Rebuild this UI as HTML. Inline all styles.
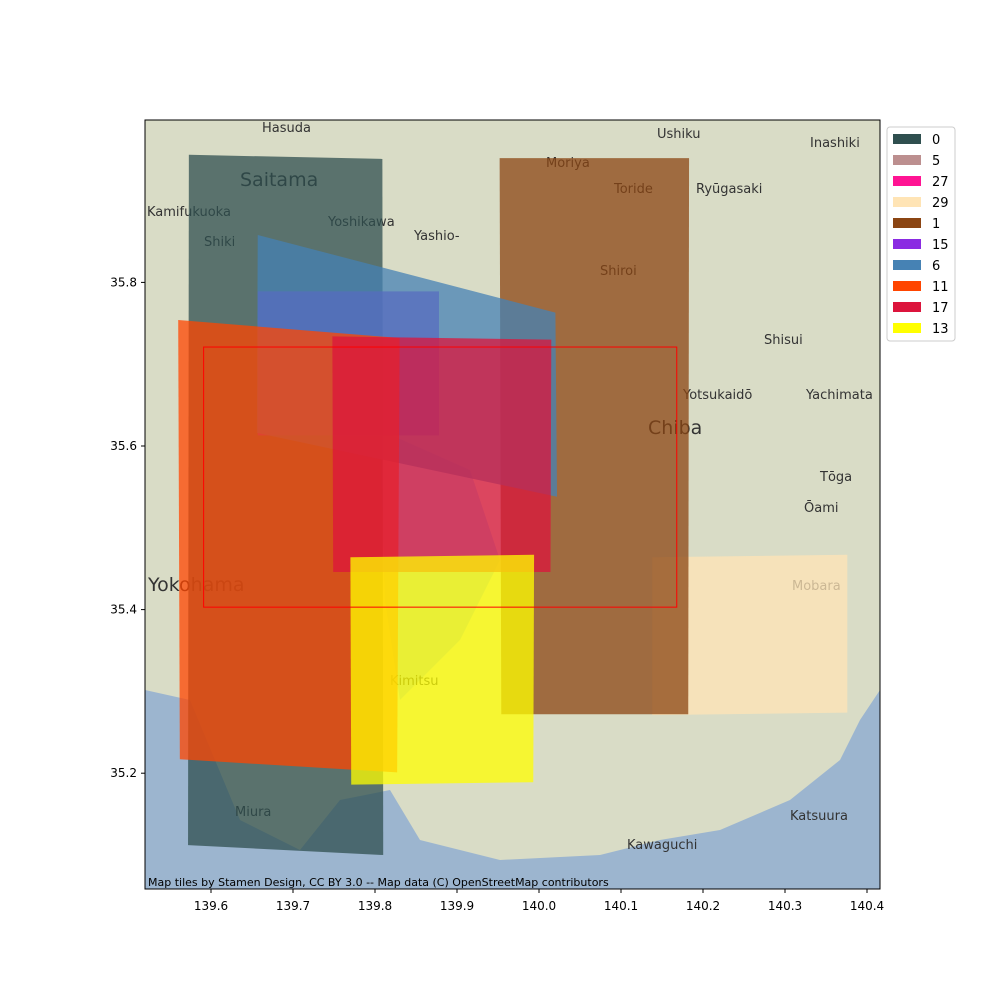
<!DOCTYPE html>
<html><head><meta charset="utf-8">
<style>
body{margin:0;background:#fff;font-family:"DejaVu Sans","Liberation Sans",sans-serif;}
svg text{font-family:"DejaVu Sans","Liberation Sans",sans-serif;}
</style></head>
<body>
<svg id="chart" width="1000" height="1000" viewBox="0 0 1000 1000" xmlns="http://www.w3.org/2000/svg">
<defs><clipPath id="clip"><rect x="145" y="120" width="735" height="769"/></clipPath></defs>
<g id="plot" clip-path="url(#clip)">
<rect x="145" y="120" width="735" height="769" fill="#d9dcc6"/>
<path d="M145,690 L190,700 L215,760 L240,820 L300,850 L340,800 L390,790 L420,840 L500,860 L600,855 L660,840 L720,830 L790,800 L840,760 L860,720 L880,690 L880,889 L145,889 Z" fill="#9cb5cf"/>
<path d="M380,430 L470,470 L500,560 L460,640 L400,700 L385,600 Z" fill="#a9bfd3"/>
<g font-size="13" fill="#333">
<text x="262" y="132">Hasuda</text><text x="657" y="138">Ushiku</text><text x="810" y="147">Inashiki</text>
<text x="240" y="186" font-size="19">Saitama</text><text x="546" y="167">Moriya</text><text x="614" y="193">Toride</text>
<text x="696" y="193">Ryūgasaki</text><text x="147" y="216">Kamifukuoka</text><text x="328" y="226">Yoshikawa</text>
<text x="414" y="240">Yashio-</text><text x="204" y="246">Shiki</text><text x="600" y="275">Shiroi</text>
<text x="764" y="344">Shisui</text><text x="683" y="399">Yotsukaidō</text><text x="806" y="399">Yachimata</text>
<text x="648" y="434" font-size="19">Chiba</text><text x="820" y="481">Tōga</text><text x="804" y="512">Ōami</text>
<text x="792" y="590">Mobara</text><text x="148" y="591" font-size="19">Yokohama</text><text x="390" y="685">Kimitsu</text>
<text x="235" y="816">Miura</text><text x="627" y="849">Kawaguchi</text><text x="790" y="820">Katsuura</text>
</g>
<g id="shapes"></g>
</g>
<rect x="145" y="120" width="735" height="769" fill="none" stroke="#000" stroke-width="1"/>
<g id="axes"></g>
<text x="148" y="886" font-size="11" fill="#000">Map tiles by Stamen Design, CC BY 3.0 -- Map data (C) OpenStreetMap contributors</text>
<g id="legend"></g>
</svg>
<script>
const ids=["0","5","27","29","1","15","6","11","17","13"];
const colors=["#2f4f4f","#bc8f8f","#ff1493","#ffe4b5","#8b4513","#8a2be2","#4682b4","#ff4500","#dc143c","#ffff00"];
const lons={"0":[139.573,139.809,139.810,139.572],"29":[140.138,140.376,140.376,140.138],"1":[139.952,140.183,140.182,139.954],"15":[139.657,139.878,139.878,139.657],"6":[139.657,140.020,140.022,139.656],"11":[139.560,139.830,139.827,139.562],"17":[139.748,140.015,140.014,139.749],"13":[139.770,139.994,139.993,139.771]};
const lats={"0":[35.956,35.951,35.100,35.112],"29":[35.464,35.467,35.274,35.271],"1":[35.952,35.952,35.272,35.272],"15":[35.789,35.789,35.613,35.613],"6":[35.858,35.763,35.538,35.616],"11":[35.754,35.732,35.201,35.217],"17":[35.734,35.730,35.446,35.446],"13":[35.464,35.467,35.189,35.186]};
const bboxLon=[139.591,140.168];
const bboxLat=[35.403,35.721];
const xTicks=[139.6,139.7,139.8,139.9,140.0,140.1,140.2,140.3,140.4];
const yTicks=[35.2,35.4,35.6,35.8];
const X=v=>211+(v-139.6)*820;
const Y=v=>446-(v-35.6)*818;
const NS="http://www.w3.org/2000/svg";
function mk(t,a,p){const e=document.createElementNS(NS,t);for(const k in a)e.setAttribute(k,a[k]);p.appendChild(e);return e;}
const sh=document.getElementById('shapes');
ids.forEach((id,i)=>{
  if(!lons[id])return;
  const pts=lons[id].map((lo,j)=>X(lo)+','+Y(lats[id][j])).join(' ');
  const p=mk('polygon',{points:pts,fill:colors[i],'fill-opacity':0.75},sh);
  
  
});
const bb=mk('rect',{x:X(bboxLon[0]),y:Y(bboxLat[1]),width:X(bboxLon[1])-X(bboxLon[0]),height:Y(bboxLat[0])-Y(bboxLat[1]),fill:'none',stroke:'#ff0000','stroke-width':1},sh);


const ax=document.getElementById('axes');
xTicks.forEach(v=>{
  const l=mk('line',{x1:X(v),x2:X(v),y1:889,y2:893,stroke:'#000'},ax);
  
  
  const t=mk('text',{x:X(v),y:910,'font-size':12,'text-anchor':'middle'},ax);
  t.textContent=v.toFixed(1);
  
  
});
yTicks.forEach(v=>{
  const l=mk('line',{x1:141,x2:145,y1:Y(v),y2:Y(v),stroke:'#000'},ax);
  
  
  const t=mk('text',{x:137,y:Y(v)+4,'font-size':12,'text-anchor':'end'},ax);
  t.textContent=v.toFixed(1);
  
  
});
const lg=document.getElementById('legend');
mk('rect',{x:887,y:127,width:68,height:214,rx:3,fill:'#fff',stroke:'#ccc'},lg);
ids.forEach((id,i)=>{
  const y=139+i*21;
  const r=mk('rect',{x:893,y:y-5,width:28,height:10,fill:colors[i]},lg);
  
  
  const t=mk('text',{x:932,y:y+5,'font-size':13},lg);
  t.textContent=id;
  
  
});
</script>
</body></html>
